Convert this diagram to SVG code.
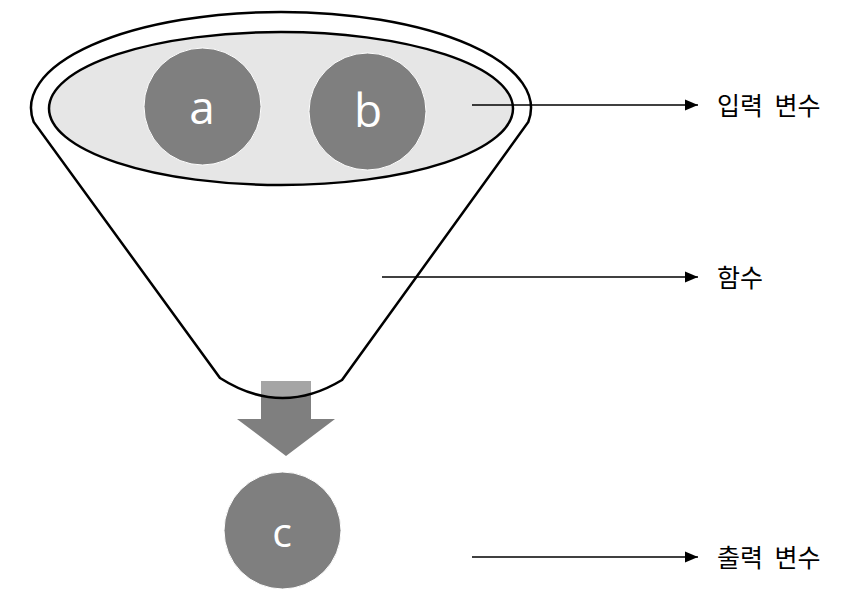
<svg xmlns="http://www.w3.org/2000/svg" width="857" height="607" viewBox="0 0 857 607">
<defs>
<style>
.ball{fill:#7f7f7f;stroke:#ffffff;stroke-width:1}
.ballt{fill:#ffffff;font-family:"Open Sans","DejaVu Sans",sans-serif;text-anchor:middle}
.lbl{fill:#000000;font-family:"Noto Sans CJK KR","Noto Sans",sans-serif;font-size:25px;word-spacing:6px}
.conn{stroke:#000000;stroke-width:1.3;fill:none;marker-end:url(#ah)}
.outline{stroke:#000000;stroke-width:2.5}
</style>
<marker id="ah" markerUnits="userSpaceOnUse" markerWidth="14" markerHeight="12" refX="13" refY="6" orient="auto">
<path d="M0,0.5 L13,6 L0,11.5 Z" fill="#000000"/>
</marker>
</defs>
<rect width="857" height="607" fill="#ffffff"/>
<g id="flow-arrow">
<polygon points="261,381 311,381 311,419 335,419 286,456 237,419 261,419" fill="#7f7f7f"/>
</g>
<g id="funnel">
<path class="outline" d="M33.7,122 A250,96 0 1 1 528.3,122 L342,380 Q281,417 220,378 Z" fill="#ffffff" fill-opacity="0.3"/>
</g>
<g id="input-area">
<ellipse class="outline" cx="281" cy="108.5" rx="232" ry="76.5" fill="#e6e6e6"/>
</g>
<g id="node-a">
<circle class="ball" cx="202.5" cy="106.5" r="58.5"/>
<text class="ballt" x="202" y="124" font-size="46">a</text>
</g>
<g id="node-b">
<circle class="ball" cx="367.5" cy="111.5" r="58.5"/>
<text class="ballt" x="368" y="127" font-size="46">b</text>
</g>
<g id="node-c">
<circle class="ball" cx="282.5" cy="530.5" r="58.5"/>
<text class="ballt" x="282" y="547" font-size="41">c</text>
</g>
<g id="connectors">
<line class="conn" x1="472" y1="105" x2="698" y2="105"/>
<line class="conn" x1="382" y1="277" x2="698" y2="277"/>
<line class="conn" x1="472" y1="557" x2="698" y2="557"/>
</g>
<g id="labels">
<text class="lbl" x="717" y="115">입력 변수</text>
<text class="lbl" x="717" y="287">함수</text>
<text class="lbl" x="717" y="567">출력 변수</text>
</g>
</svg>
